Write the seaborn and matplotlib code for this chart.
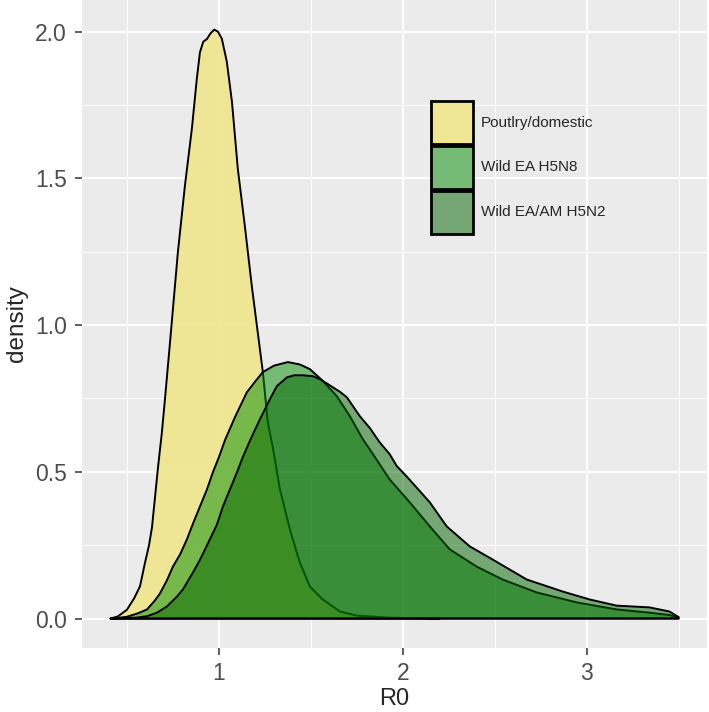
import numpy as np
import pandas as pd
import matplotlib
matplotlib.use("Agg")
import matplotlib.pyplot as plt
import seaborn as sns
from matplotlib.patches import Patch
from matplotlib.ticker import MultipleLocator

# density curves
poultry_x = [0.41, 0.45, 0.50, 0.54, 0.571, 0.598, 0.62, 0.636, 0.652, 0.668, 0.69, 0.707,
             0.734, 0.777, 0.815, 0.853, 0.88, 0.897, 0.915, 0.935, 0.955, 0.975, 0.995, 1.016,
             1.043, 1.071, 1.103, 1.141, 1.179, 1.223, 1.239, 1.266, 1.295, 1.332, 1.386, 1.44,
             1.495, 1.565, 1.658, 1.75, 1.93, 2.2]
poultry_y = [0.0, 0.007, 0.03, 0.07, 0.11, 0.19, 0.25, 0.31, 0.41, 0.51, 0.635, 0.75,
             0.94, 1.249, 1.474, 1.669, 1.84, 1.93, 1.966, 1.975, 1.995, 2.007, 2.0, 1.976,
             1.898, 1.761, 1.532, 1.338, 1.133, 0.918, 0.84, 0.669, 0.577, 0.44, 0.304, 0.191,
             0.109, 0.065, 0.024, 0.01, 0.003, 0.0]

h5n8_x = [0.42, 0.50, 0.56, 0.609, 0.65, 0.679, 0.717, 0.75, 0.79, 0.826,
          0.86, 0.897, 0.935, 0.967, 1.0, 1.035, 1.09, 1.152, 1.2, 1.239,
          1.30, 1.375, 1.44, 1.495, 1.565, 1.641, 1.712, 1.783, 1.82, 1.929,
          2.038, 2.147, 2.255, 2.402, 2.543, 2.728, 2.946, 3.163, 3.342, 3.45, 3.5]
h5n8_y = [0.0, 0.006, 0.018, 0.031, 0.06, 0.085, 0.13, 0.177, 0.22, 0.27,
          0.325, 0.382, 0.44, 0.498, 0.55, 0.611, 0.69, 0.771, 0.81, 0.84,
          0.862, 0.874, 0.866, 0.85, 0.81, 0.758, 0.69, 0.611, 0.577, 0.474,
          0.396, 0.314, 0.236, 0.177, 0.133, 0.089, 0.055, 0.031, 0.02, 0.012, 0.003]

h5n2_x = [0.41, 0.55, 0.609, 0.663, 0.717, 0.772, 0.804, 0.859, 0.897, 0.951,
          0.989, 1.022, 1.06, 1.098, 1.13, 1.168, 1.223, 1.277, 1.315, 1.37,
          1.41, 1.457, 1.51, 1.549, 1.59, 1.62, 1.66, 1.696, 1.766, 1.82,
          1.875, 1.929, 1.967, 2.02, 2.147, 2.239, 2.364, 2.489, 2.674, 2.87,
          3.016, 3.163, 3.342, 3.45, 3.5]
h5n2_y = [0.0, 0.003, 0.008, 0.02, 0.041, 0.075, 0.099, 0.157, 0.2, 0.27,
          0.32, 0.382, 0.44, 0.498, 0.55, 0.605, 0.679, 0.747, 0.792, 0.822,
          0.829, 0.829, 0.826, 0.816, 0.80, 0.788, 0.772, 0.754, 0.69, 0.65,
          0.60, 0.56, 0.52, 0.485, 0.396, 0.314, 0.246, 0.201, 0.133, 0.092,
          0.065, 0.044, 0.038, 0.024, 0.005]

labels = ["Poutlry/domestic", "Wild EA H5N8", "Wild EA/AM H5N2"]
fills = ["khaki", "#008B00", "#006400"]
alphas = [0.9, 0.5, 0.5]
key_colors = ["#F0E795", "#75BB75", "#75A775"]

df = pd.concat([
    pd.DataFrame({"R0": poultry_x, "density": poultry_y, "group": labels[0]}),
    pd.DataFrame({"R0": h5n8_x, "density": h5n8_y, "group": labels[1]}),
    pd.DataFrame({"R0": h5n2_x, "density": h5n2_y, "group": labels[2]}),
])

sns.set_theme(style="darkgrid", rc={
    "axes.facecolor": "#EBEBEB",
    "grid.color": "white",
})
plt.rcParams["font.family"] = ["Liberation Sans", "DejaVu Sans"]

fig = plt.figure(figsize=(7.09, 7.12), dpi=100)
ax = fig.add_axes([82 / 709, 64 / 712, 625 / 709, 648 / 712])

# each group: fill, then black outline; the next group's fill tints the outline below it
for lab, col, a in zip(labels, fills, alphas):
    d = df[df["group"] == lab]
    ax.fill_between(d["R0"], 0, d["density"], facecolor=col, alpha=a,
                    edgecolor="none", zorder=2)
    ax.fill_between(d["R0"], 0, d["density"], facecolor="none",
                    edgecolor=(0, 0, 0, 1), linewidth=1.4, zorder=2)

ax.set_xlim(0.2555, 3.6545)
ax.set_ylim(-0.1004, 2.108)
ax.xaxis.set_major_locator(MultipleLocator(1))
ax.xaxis.set_minor_locator(MultipleLocator(0.5))
ax.yaxis.set_major_locator(MultipleLocator(0.5))
ax.yaxis.set_minor_locator(MultipleLocator(0.25))
ax.set_yticklabels([f"{t:.1f}" for t in ax.get_yticks()])
ax.grid(which="major", color="white", linewidth=1.4)
ax.grid(which="minor", color="white", linewidth=0.7)
for s in ax.spines.values():
    s.set_visible(False)
ax.tick_params(which="major", length=5, width=1.1, color="#333333",
               labelsize=16.5, labelcolor="#4D4D4D", bottom=True, left=True)
ax.tick_params(axis="y", which="major", pad=6)
ax.tick_params(axis="x", which="major", pad=5)
ax.tick_params(which="minor", length=0)
ax.set_xlabel("R0", fontsize=17, labelpad=2)
ax.set_ylabel("density", fontsize=17.5, labelpad=5)

handles = [Patch(facecolor=c, edgecolor="black", linewidth=2) for c in key_colors]
ax.legend(handles, labels, loc="upper left", bbox_to_anchor=(431 / 709, 1 - 101 / 712),
          bbox_transform=fig.transFigure, frameon=False, borderpad=0, borderaxespad=0,
          handlelength=2.75, handleheight=3.95, labelspacing=0.12, handletextpad=0.5,
          fontsize=11)

fig.savefig("out.png", dpi=100)
